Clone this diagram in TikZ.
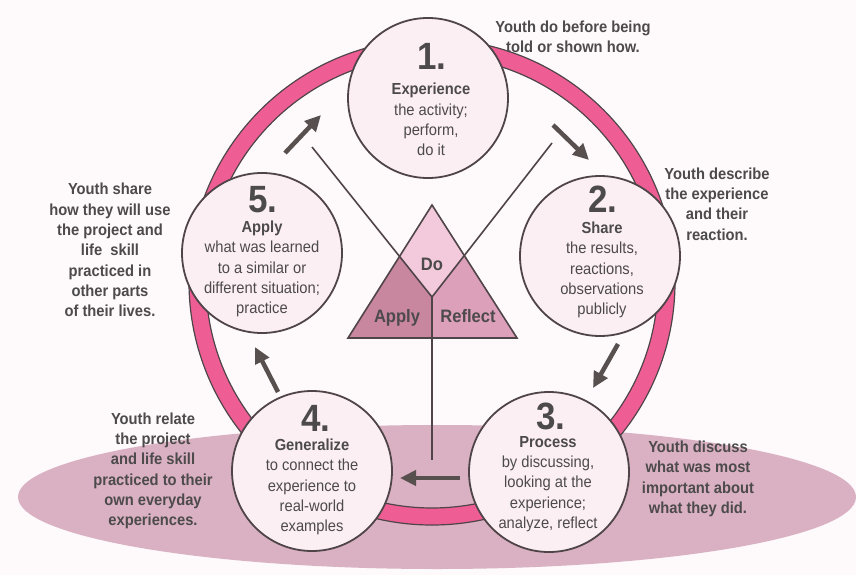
\documentclass[tikz,border=0pt]{standalone}
\usepackage{fontspec}
\setmainfont{Liberation Sans}[FakeStretch=0.92]
\usetikzlibrary{arrows.meta}
\definecolor{bgc}{HTML}{FEF9FB}
\definecolor{ringpink}{HTML}{EE5E95}
\definecolor{ellc}{HTML}{D9B1C2}
\definecolor{cfill}{HTML}{FBEFF4}
\definecolor{doc}{HTML}{F2CADB}
\definecolor{reflc}{HTML}{DDA0BA}
\definecolor{applyc}{HTML}{C8869F}
\definecolor{dark}{HTML}{4F4549}
\definecolor{txt}{HTML}{4D4A4B}
\definecolor{arrc}{HTML}{58504F}
\begin{document}
\begin{tikzpicture}[x=1pt,y=-1pt,
  ann/.style={align=center, font=\fontsize{16}{20.3}\selectfont\bfseries, text=txt, inner sep=0pt},
  body/.style={align=center, font=\fontsize{16}{20.3}\selectfont, text=txt, inner sep=0pt},
  num/.style={font=\fontsize{38}{38}\selectfont\bfseries, text=txt, inner sep=0pt, anchor=base},
  tri/.style={font=\fontsize{18}{18}\selectfont\bfseries, text=txt, inner sep=0pt, anchor=base},
  stage/.style={circle, draw=dark, line width=1.8pt, fill=cfill, minimum size=160pt, inner sep=0pt},
  arr/.style={draw=arrc, line width=4.5pt, -{Triangle[length=16pt,width=15pt]}},
  thinline/.style={draw=dark, line width=1.6pt}]
\fill[bgc] (0,0) rectangle (856,575);
\useasboundingbox (0,0) rectangle (856,575);
% ground ellipse
\fill[ellc] (437,497) ellipse [x radius=419pt, y radius=72pt];
% ring
\coordinate (rc) at (432,282);
\filldraw[fill=ringpink, draw=dark, line width=1.2pt, even odd rule] (rc) circle[radius=243pt] (rc) circle[radius=226pt];
% stage circles
\node[stage] (c1) at (428,98) {};
\node[stage] (c2) at (600,256) {};
\node[stage] (c3) at (549,472) {};
\node[stage] (c4) at (312,471) {};
\node[stage] (c5) at (262,253) {};
% triangle
\coordinate (T) at (432,205);
\coordinate (BL) at (348,338);
\coordinate (BR) at (517,338);
\coordinate (BM) at (432,338);
\coordinate (L1) at (312,147);
\coordinate (R1) at (552,143);
\coordinate (V) at (432,297);
\coordinate (VB) at (432,460);
\coordinate (PL) at (intersection of T--BL and L1--V);
\coordinate (PR) at (intersection of T--BR and R1--V);
\fill[doc] (T) -- (PR) -- (V) -- (PL) -- cycle;
\fill[applyc] (PL) -- (V) -- (BM) -- (BL) -- cycle;
\fill[reflc] (PR) -- (BR) -- (BM) -- (V) -- cycle;
\draw[thinline] (L1) -- (V) -- (R1);
\draw[thinline] (V) -- (VB);
\draw[thinline, line join=miter] (T) -- (BR) -- (BL) -- cycle;
\node[tri] (tdo) at (432,270) {Do};
\node[tri] (tapply) at (397,322) {Apply};
\node[tri] (trefl) at (468,322) {Reflect};
% arrows
\coordinate (a12s) at (553,125); \coordinate (a12e) at (589,160);
\coordinate (a23s) at (618,344); \coordinate (a23e) at (593,388);
\coordinate (a34s) at (460,478); \coordinate (a34e) at (400,478);
\coordinate (a45s) at (278,392); \coordinate (a45e) at (255,347);
\coordinate (a51s) at (285,153); \coordinate (a51e) at (321,115);
\draw[arr] (a12s) -- (a12e);
\draw[arr] (a23s) -- (a23e);
\draw[arr] (a34s) -- (a34e);
\draw[arr] (a45s) -- (a45e);
\draw[arr] (a51s) -- (a51e);
% numbers
\node[num] (n1) at (432,70) {1.};
\node[num] (n2) at (603,212) {2.};
\node[num] (n3) at (551,429) {3.};
\node[num] (n4) at (316,431) {4.};
\node[num] (n5) at (263,212) {5.};
% circle texts
\node[body] (t1) at (431,119.5) {\textbf{Experience}\\the activity;\\perform,\\do it};
\node[body] (t2) at (602,270) {\textbf{Share}\\the results,\\reactions,\\observations\\publicly};
\node[body] (t3) at (548,484) {\textbf{Process}\\by discussing,\\looking at the\\experience;\\analyze, reflect};
\node[body] (t4) at (312,487) {\textbf{Generalize}\\to connect the\\experience to\\real-world\\examples};
\node[body] (t5) at (262,269) {\textbf{Apply}\\what was learned\\to a similar or\\different situation;\\practice};
% annotations
\node[ann] (y1) at (573,36.5) {Youth do before being\\told or shown how.};
\node[ann] (y2) at (717,204) {Youth describe\\the experience\\and their\\reaction.};
\node[ann] (y3) at (698,479) {Youth discuss\\what was most\\important about\\what they did.};
\node[ann] (y4) at (153,471) {Youth relate\\the project\\and life skill\\practiced to their\\own everyday\\experiences.};
\node[ann] (y5) at (110,250) {Youth share\\how they will use\\the project and\\life\ \ skill\\practiced in\\other parts\\of their lives.};
\end{tikzpicture}
\end{document}
